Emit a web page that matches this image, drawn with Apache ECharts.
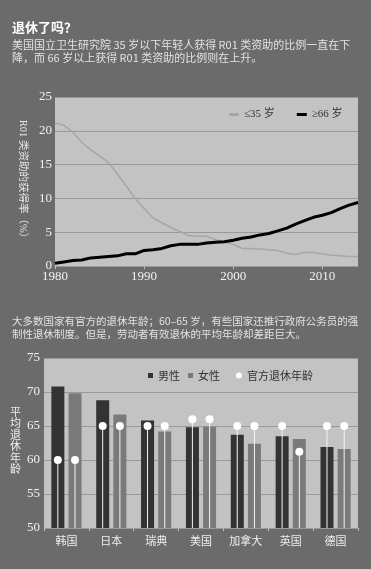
<!DOCTYPE html>
<html><head><meta charset="utf-8">
<script src="https://cdn.jsdelivr.net/npm/echarts@6/dist/echarts.min.js"></script>
<style>html,body{margin:0;padding:0;background:#6b6b6b;}#c{width:371px;height:569px;}</style>
</head><body><div id="c"></div>
<script>
// Line chart data
const years = [1980,1981,1982,1983,1984,1985,1986,1987,1988,1989,1990,1991,1992,1993,1994,1995,1996,1997,1998,1999,2000,2001,2002,2003,2004,2005,2006,2007,2008,2009,2010,2011,2012,2013,2014];
const under35 = [21.2,20.8,19.8,18.3,17.2,16.3,15.3,13.6,11.8,10.0,8.5,7.1,6.4,5.7,5.1,4.5,4.4,4.4,3.9,3.5,3.2,2.6,2.6,2.5,2.4,2.3,1.9,1.7,2.0,2.0,1.8,1.6,1.5,1.4,1.4];
const over66 = [0.4,0.6,0.8,0.9,1.2,1.3,1.4,1.5,1.8,1.8,2.3,2.4,2.6,3.0,3.2,3.2,3.2,3.4,3.5,3.6,3.8,4.1,4.3,4.6,4.8,5.2,5.6,6.2,6.7,7.2,7.5,7.9,8.5,9.0,9.4];
const lineNames = ['≤35 岁', '≥66 岁'];

// Bar chart data
const countries = ['韩国','日本','瑞典','美国','加拿大','英国','德国'];
const maleAge = [70.8,68.8,65.8,64.8,63.7,63.5,61.9];
const femaleAge = [69.8,66.7,64.2,64.9,62.4,63.1,61.6];
const officialMale = [60,65,65,66,65,65,65];
const officialFemale = [60,65,65,66,65,61.2,65];
const barNames = ['男性','女性','官方退休年龄'];

const serif = 'Liberation Serif, Noto Sans CJK SC';
const cjk = 'Noto Sans CJK SC';

const officialData = [];
countries.forEach((c, i) => {
  officialData.push([i, officialMale[i], -1]);
  officialData.push([i, officialFemale[i], 1]);
});

const chart = echarts.init(document.getElementById('c'));
chart.setOption({
  backgroundColor: '#6b6b6b',
  animation: false,
  graphic: [
    {type:'text', left:12, top:21, style:{text:'退休了吗？', fill:'#ffffff', font:'bold 13px "Noto Sans CJK SC"'}},
    {type:'text', left:12, top:38, style:{text:'美国国立卫生研究院 35 岁以下年轻人获得 R01 类资助的比例一直在下\n降，而 66 岁以上获得 R01 类资助的比例则在上升。', fill:'#e2e2e2', font:'11px "Noto Sans CJK SC"', lineHeight:13}},
    {type:'text', left:12, top:315, style:{text:'大多数国家有官方的退休年龄；60–65 岁，有些国家还推行政府公务员的强\n制性退休制度。但是，劳动者有效退休的平均年龄却差距巨大。', fill:'#e2e2e2', font:'10.5px "Noto Sans CJK SC"', lineHeight:13}},
    {type:'text', left:10, top:406, style:{text:'平\n均\n退\n休\n年\n龄', fill:'#eeeeee', font:'11px "Noto Sans CJK SC"', lineHeight:11.5, align:'left'}}
  ],
  legend: [
    {data:[{name:lineNames[0]},{name:lineNames[1]}], left:224, top:104, itemWidth:10, itemHeight:3, itemGap:22, icon:'rect',
     textStyle:{color:'#333', fontFamily:serif, fontSize:11}},
    {data:[{name:barNames[0], icon:'rect'},{name:barNames[1], icon:'rect'}], left:143, top:365, itemWidth:5, itemHeight:5, itemGap:8,
     textStyle:{color:'#333', fontFamily:cjk, fontSize:11}},
    {data:[{name:barNames[2], icon:'circle'}], left:231, top:365, itemWidth:6, itemHeight:6,
     textStyle:{color:'#333', fontFamily:cjk, fontSize:11}}
  ],
  grid: [
    {left:55, top:97, right:13, bottom:303, show:true, backgroundColor:'#c3c3c3', borderWidth:0},
    {left:44, top:358, right:13, bottom:41, show:true, backgroundColor:'#c3c3c3', borderWidth:0}
  ],
  xAxis: [
    {gridIndex:0, type:'value', min:1980, max:2014, interval:10,
     axisLine:{show:true, lineStyle:{color:'#9a9a9a'}}, axisTick:{show:true, length:3, lineStyle:{color:'#bbb'}},
     splitLine:{show:false},
     axisLabel:{color:'#f2f2f2', fontFamily:serif, fontSize:13, margin:4, showMaxLabel:false, formatter: v => String(v)}},
    {gridIndex:1, type:'category', data:countries,
     axisLine:{show:true, lineStyle:{color:'#9a9a9a'}}, axisTick:{show:true, length:3, lineStyle:{color:'#bbb'}},
     axisLabel:{color:'#eeeeee', fontFamily:cjk, fontSize:11, margin:7}}
  ],
  yAxis: [
    {gridIndex:0, type:'value', min:0, max:25, interval:5,
     name:'R01 类资助的获得率（%）', nameLocation:'middle', nameRotate:-90, nameGap:26,
     nameTextStyle:{color:'#e6e6e6', fontFamily:serif, fontSize:10.5},
     axisLine:{show:false}, axisTick:{show:false},
     splitLine:{show:true, lineStyle:{color:'#999', width:1}},
     axisLabel:{color:'#f2f2f2', fontFamily:serif, fontSize:13, margin:3}},
    {gridIndex:1, type:'value', min:50, max:75, interval:5,
     axisLine:{show:false}, axisTick:{show:false},
     splitLine:{show:true, lineStyle:{color:'#999', width:1}},
     axisLabel:{color:'#f2f2f2', fontFamily:serif, fontSize:13, margin:4}}
  ],
  series: [
    {name:lineNames[0], type:'line', xAxisIndex:0, yAxisIndex:0, symbol:'none',
     data: years.map((y,i)=>[y, under35[i]]), lineStyle:{color:'#a6a6a6', width:1.5}, itemStyle:{color:'#a6a6a6'}},
    {name:lineNames[1], type:'line', xAxisIndex:0, yAxisIndex:0, symbol:'none',
     data: years.map((y,i)=>[y, over66[i]]), lineStyle:{color:'#000', width:3}, itemStyle:{color:'#000'}},
    {name:barNames[0], type:'bar', xAxisIndex:1, yAxisIndex:1, data:maleAge, barWidth:13, barGap:'32%',
     itemStyle:{color:'#333333'}},
    {name:barNames[1], type:'bar', xAxisIndex:1, yAxisIndex:1, data:femaleAge, barWidth:13,
     itemStyle:{color:'#7a7a7a'}},
    {name:barNames[2], type:'custom', xAxisIndex:1, yAxisIndex:1, data:officialData, z:5,
     itemStyle:{color:'#ffffff'},
     encode:{x:0, y:1},
     renderItem: function(params, api){
       const cat = api.value(0), val = api.value(1), side = api.value(2);
       const top = api.coord([cat, val]);
       const base = api.coord([cat, 50]);
       const x = top[0] + side * 8.6;
       return {type:'group', children:[
         {type:'line', shape:{x1:x, y1:base[1], x2:x, y2:top[1]}, style:{stroke:'#f4f4f4', lineWidth:1}},
         {type:'circle', shape:{cx:x, cy:top[1], r:4}, style:{fill:'#ffffff'}}
       ]};
     }}
  ]
});
</script></body></html>
